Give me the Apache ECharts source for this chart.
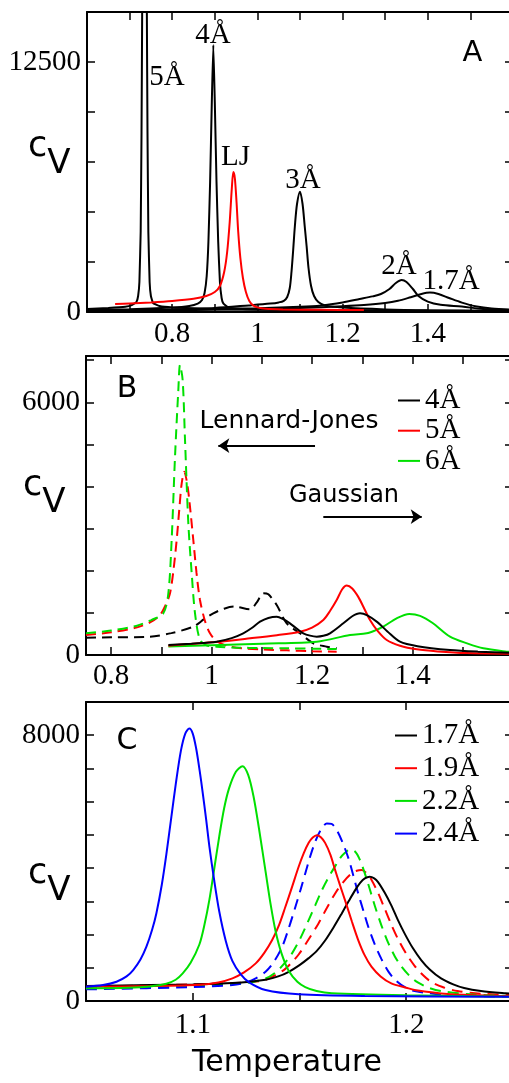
<!DOCTYPE html>
<html>
<head>
<meta charset="utf-8">
<script src="https://cdn.jsdelivr.net/npm/echarts@6/dist/echarts.min.js"></script>
<style>
html,body{margin:0;padding:0;background:#fff;}
#chart{width:509px;height:1083px;}
</style>
</head>
<body>
<div id="chart"></div>
<script>
// ---------- DATA ----------
// Panel A: [Temperature, Cv]
const A_5A = [[0.6,150],[0.65,200],[0.69,260],[0.705,340],[0.716,500],[0.72,800],[0.723,1500],[0.726,4000],[0.728,9000],[0.7295,15000],[0.731,25000],[0.735,40000],[0.739,25000],[0.7405,15000],[0.742,9000],[0.744,4000],[0.747,1500],[0.75,800],[0.755,450],[0.77,300],[0.8,230],[0.9,150],[1.0,110],[1.2,80],[1.4,60],[1.6,50]];
const A_4A = [[0.6,100],[0.7,140],[0.8,220],[0.84,300],[0.86,420],[0.87,600],[0.876,950],[0.881,1800],[0.885,3500],[0.889,6500],[0.893,10500],[0.8965,13350],[0.9,10500],[0.904,6500],[0.908,3500],[0.912,1500],[0.916,700],[0.92,430],[0.93,250],[0.95,170],[1.0,120],[1.2,80],[1.4,60],[1.6,45]];
const A_LJ = [[0.666,400],[0.7,430],[0.75,480],[0.8,550],[0.85,660],[0.88,800],[0.9,1000],[0.912,1300],[0.922,2000],[0.929,3000],[0.935,4500],[0.94,6200],[0.9435,7000],[0.947,6700],[0.951,5500],[0.955,4000],[0.96,2700],[0.966,1700],[0.973,1000],[0.981,550],[0.99,330],[1.0,230],[1.02,160],[1.06,130],[1.15,110],[1.25,100]];
const A_3A = [[0.6,60],[0.7,90],[0.8,130],[0.9,200],[0.98,330],[1.03,420],[1.05,480],[1.062,560],[1.07,750],[1.076,1200],[1.08,2000],[1.084,3100],[1.088,4300],[1.093,5400],[1.1,6017],[1.106,5400],[1.111,4300],[1.1155,3300],[1.12,2200],[1.126,1300],[1.133,800],[1.143,500],[1.16,320],[1.2,220],[1.3,130],[1.4,90],[1.6,60]];
const A_2A = [[0.6,60],[0.8,110],[1.0,190],[1.1,260],[1.15,330],[1.2,480],[1.24,650],[1.27,780],[1.29,900],[1.31,1150],[1.325,1450],[1.3387,1600],[1.35,1500],[1.365,1150],[1.378,800],[1.4,520],[1.43,360],[1.48,270],[1.53,150],[1.6,90]];
const A_17A = [[0.6,50],[0.8,90],[1.0,150],[1.1,200],[1.2,290],[1.25,350],[1.3,450],[1.33,560],[1.36,740],[1.385,900],[1.405,970],[1.425,900],[1.45,700],[1.48,470],[1.515,270],[1.55,170],[1.6,110]];
const A_xTicks = [0.7,0.8,0.9,1.0,1.1,1.2,1.3,1.4,1.5];
const A_xLabels = [0.8,1,1.2,1.4];
const A_yTicks = [0,2500,5000,7500,10000,12500];
const A_yLabels = [0,12500];

// Panel B
const B_4A_gauss = [[0.914,237],[0.96,270],[1.01,316],[1.04,400],[1.063,515],[1.08,640],[1.0964,791],[1.113,880],[1.1296,910],[1.143,850],[1.156,752],[1.17,620],[1.1826,515],[1.196,460],[1.2093,435],[1.2225,455],[1.2357,515],[1.2622,752],[1.28,920],[1.2955,990],[1.31,940],[1.33,780],[1.35,560],[1.375,317],[1.41,210],[1.4746,119],[1.53,80],[1.6,50]];
const B_5A_gauss = [[0.914,220],[1.0,300],[1.0765,396],[1.13,470],[1.176,554],[1.2,650],[1.2224,831],[1.236,1050],[1.249,1306],[1.26,1560],[1.269,1650],[1.28,1580],[1.292,1380],[1.304,1100],[1.3153,831],[1.33,580],[1.3486,356],[1.375,220],[1.4083,135],[1.45,85],[1.508,45],[1.6,30]];
const B_6A_gauss = [[0.914,200],[1.0,230],[1.1,270],[1.2093,316],[1.2755,475],[1.3088,515],[1.325,580],[1.3418,673],[1.3684,871],[1.3936,974],[1.415,930],[1.44,760],[1.4746,435],[1.51,270],[1.5409,158],[1.5875,79],[1.6,70]];
const B_4A_lj = [[0.75,412],[0.8,420],[0.8774,435],[0.92,520],[0.9636,673],[0.985,850],[1.0034,990],[1.025,1100],[1.045,1150],[1.0765,1085],[1.09,1250],[1.103,1464],[1.113,1440],[1.1296,1187],[1.1495,752],[1.176,515],[1.2025,277],[1.2292,198],[1.249,158]];
const B_5A_lj = [[0.75,475],[0.8,540],[0.85,650],[0.88,790],[0.8973,950],[0.909,1200],[0.9172,1464],[0.924,2000],[0.9305,2731],[0.936,3500],[0.9405,4077],[0.9457,4354],[0.951,4100],[0.9556,3681],[0.9636,2731],[0.97,1950],[0.9769,1306],[0.987,800],[0.9968,515],[1.01,330],[1.03,220],[1.06,160],[1.1,130],[1.15,110],[1.2,90],[1.249,79]];
const B_6A_lj = [[0.75,515],[0.8,580],[0.85,690],[0.88,830],[0.9039,990],[0.9139,1464],[0.9205,2731],[0.9272,4710],[0.9338,6293],[0.9371,6887],[0.9424,6531],[0.9471,5106],[0.9537,3127],[0.9604,1939],[0.967,990],[0.9769,356],[0.99,230],[1.01,197],[1.05,175],[1.1,165],[1.15,160],[1.2,150],[1.249,140]];
const B_legend = ['4Å','5Å','6Å'];
const B_xTicks = [0.8,0.9,1.0,1.1,1.2,1.3,1.4,1.5];
const B_xLabels = [0.8,1,1.2,1.4];
const B_yTicks = [0,1000,2000,3000,4000,5000,6000,7000];
const B_yLabels = [0,6000];
const B_arrowLJ = [[1.2059,4970],[1.0134,4970]];
const B_arrowGauss = [[1.2224,3284],[1.4183,3284]];

// Panel C
const C_17 = [[1.05,451],[1.08,480],[1.1,500],[1.1186,540],[1.1341,640],[1.14,740],[1.145,880],[1.15,1080],[1.1543,1290],[1.158,1500],[1.162,1820],[1.166,2220],[1.1698,2637],[1.173,3000],[1.176,3330],[1.1785,3560],[1.1806,3689],[1.1829,3739],[1.185,3690],[1.1868,3580],[1.19,3250],[1.193,2880],[1.196,2450],[1.1992,2035],[1.203,1600],[1.207,1233],[1.211,950],[1.2163,680],[1.222,500],[1.2271,390],[1.235,300],[1.2465,231],[1.25,220]];
const C_19 = [[1.05,431],[1.08,450],[1.1031,490],[1.112,560],[1.1186,682],[1.124,860],[1.1295,1133],[1.1335,1450],[1.1372,1835],[1.1405,2300],[1.1434,2837],[1.1466,3450],[1.1496,4040],[1.152,4450],[1.1543,4760],[1.1562,4920],[1.1581,4992],[1.16,4930],[1.162,4760],[1.1645,4400],[1.1667,3940],[1.169,3480],[1.1713,3038],[1.1745,2400],[1.1775,1835],[1.1805,1380],[1.1837,1033],[1.188,740],[1.193,531],[1.2,400],[1.2039,331],[1.2194,211],[1.2465,150],[1.25,145]];
const C_22 = [[1.05,381],[1.07,400],[1.08,440],[1.0876,520],[1.092,640],[1.0953,832],[1.099,1150],[1.1031,1700],[1.1055,2300],[1.1078,3050],[1.11,3950],[1.1124,4950],[1.1147,5800],[1.117,6400],[1.1202,6900],[1.1233,7068],[1.126,6800],[1.1285,6150],[1.131,5200],[1.1341,3900],[1.1365,2900],[1.1388,2100],[1.1415,1450],[1.145,900],[1.149,580],[1.1527,420],[1.158,300],[1.1651,231],[1.2,170],[1.25,130]];
const C_24 = [[1.05,431],[1.058,480],[1.0643,581],[1.069,740],[1.0721,932],[1.0755,1250],[1.0783,1634],[1.081,2150],[1.083,2650],[1.0855,3500],[1.0876,4400],[1.09,5550],[1.0922,6600],[1.0945,7550],[1.0965,8050],[1.0984,8200],[1.1,8050],[1.1016,7600],[1.1032,6950],[1.1047,6250],[1.1063,5450],[1.1078,4650],[1.11,3650],[1.1124,2700],[1.1155,1800],[1.1186,1200],[1.1225,800],[1.1264,560],[1.1341,330],[1.1496,200],[1.1806,150],[1.25,130]];
const C_17d = [[1.05,431],[1.1,500],[1.125,560],[1.1341,640],[1.1419,900],[1.1455,1100],[1.1496,1400],[1.154,1830],[1.1589,2336],[1.1628,2800],[1.1667,3238],[1.1705,3580],[1.1744,3840],[1.1768,3920],[1.1791,3940],[1.1814,3850],[1.1837,3650],[1.1868,3250],[1.1899,2780],[1.193,2300],[1.1961,1870],[1.2,1420],[1.2039,1060],[1.2078,780],[1.2116,580],[1.217,420],[1.224,300],[1.235,220],[1.25,180]];
const C_22d = [[1.05,400],[1.1,460],[1.125,540],[1.1341,680],[1.1388,860],[1.1425,1100],[1.1465,1434],[1.1505,1900],[1.1543,2436],[1.1575,2900],[1.1605,3338],[1.1636,3720],[1.1667,4060],[1.169,4300],[1.1713,4460],[1.1736,4561],[1.176,4500],[1.1783,4250],[1.1806,3840],[1.183,3350],[1.1853,2860],[1.1884,2270],[1.1915,1760],[1.1946,1350],[1.1977,1040],[1.2015,760],[1.2054,560],[1.2105,400],[1.2163,300],[1.23,200],[1.25,150]];
const C_24d = [[1.05,351],[1.1,420],[1.1186,481],[1.125,560],[1.1295,682],[1.1341,880],[1.138,1180],[1.1419,1634],[1.145,2200],[1.1481,2837],[1.1505,3350],[1.1527,3840],[1.155,4350],[1.1574,4800],[1.16,5150],[1.1628,5343],[1.165,5330],[1.1674,5150],[1.17,4800],[1.1729,4300],[1.1752,3780],[1.1775,3238],[1.18,2700],[1.1822,2236],[1.1853,1700],[1.1884,1260],[1.1915,900],[1.1946,650],[1.199,430],[1.2039,300],[1.2194,180],[1.25,130]];
const C_legend = ['1.7Å','1.9Å','2.2Å','2.4Å'];
const C_xTicks = [1.1,1.15,1.2];
const C_xLabels = [1.1,1.2];
const C_yTicks = [0,1000,2000,3000,4000,5000,6000,7000,8000];
const C_yLabels = [0,8000];

// ---------- STYLE ----------
const SERIF = 'Liberation Serif';
const SANS = 'DejaVu Sans';
const BLACK = '#000000', RED = '#ff0000', GREEN = '#00e000', BLUE = '#0000ff';

function axis(gridIndex, min, max, ticks, labels, position, margin) {
  return {
    type: 'value', gridIndex, min, max, position,
    axisLine: { show: true, onZero: false, lineStyle: { color: '#000', width: 2 } },
    axisTick: { show: true, inside: true, length: 8, customValues: ticks, lineStyle: { color: '#000', width: 1.5 } },
    axisLabel: labels ? { show: true, customValues: labels, margin, color: '#000', fontFamily: SERIF, fontSize: 29,
      formatter: (v) => String(v) } : { show: false },
    splitLine: { show: false }
  };
}

function line(name, data, xi, color, dashed, extra) {
  return Object.assign({
    type: 'line', name, data, xAxisIndex: xi, yAxisIndex: xi,
    showSymbol: false, symbol: 'none', smooth: 0.3, clip: true,
    color: color,
    itemStyle: { color },
    lineStyle: { color, width: 2, type: dashed || 'solid' },
    emphasis: { disabled: true }, silent: true
  }, extra || {});
}

function txt(x, y, text, family, size, align) {
  return { type: 'text', x, y, z: 100, silent: true,
    style: { text, fill: '#000', font: size + 'px "' + family + '"', align: align || 'center', verticalAlign: 'middle' } };
}
function cv(x, y) {
  return { type: 'text', x, y, z: 100, silent: true,
    style: { text: '{c|c}{v|V}', fill: '#000', align: 'left', verticalAlign: 'top',
      rich: {
        c: { fontFamily: SANS, fontSize: 35, lineHeight: 40, verticalAlign: 'top', fill: '#000' },
        v: { fontFamily: SANS, fontSize: 34, lineHeight: 40, padding: [18, 0, 0, 0], verticalAlign: 'top', fill: '#000' }
      } } };
}

const dashB = [10, 6], dashC = [11, 7];
const arrowLine = (p) => [{ coord: p[0] }, { coord: p[1] }];

const option = {
  animation: false,
  backgroundColor: '#fff',
  grid: [
    { left: 87, top: 12, right: -4, height: 300, outerBoundsMode: 'none', containLabel: false },
    { left: 86, top: 356, right: -4, height: 299, outerBoundsMode: 'none', containLabel: false },
    { left: 86, top: 702, right: -4, height: 299, outerBoundsMode: 'none', containLabel: false }
  ],
  xAxis: [
    axis(0, 0.6, 1.6, A_xTicks, A_xLabels, 'bottom', 8),
    axis(0, 0.6, 1.6, A_xTicks, null, 'top'),
    axis(1, 0.75, 1.6, B_xTicks, B_xLabels, 'bottom', 7),
    axis(1, 0.75, 1.6, B_xTicks, null, 'top'),
    axis(2, 1.05, 1.25, C_xTicks, C_xLabels, 'bottom', 10),
    axis(2, 1.05, 1.25, C_xTicks, null, 'top')
  ],
  yAxis: [
    axis(0, 0, 15000, A_yTicks, A_yLabels, 'left', 6),
    axis(0, 0, 15000, A_yTicks, null, 'right'),
    axis(1, 0, 7100, B_yTicks, B_yLabels, 'left', 6),
    axis(1, 0, 7100, B_yTicks, null, 'right'),
    axis(2, 0, 9000, C_yTicks, C_yLabels, 'left', 6),
    axis(2, 0, 9000, C_yTicks, null, 'right')
  ],
  legend: [
    { data: B_legend, left: 398, top: 386, orient: 'vertical', padding: 0, icon: 'rect', itemWidth: 22, itemHeight: 2, itemGap: 1.2,
      selectedMode: false, textStyle: { fontFamily: SERIF, fontSize: 29, lineHeight: 28, color: '#000' } },
    { data: C_legend, left: 395, top: 721, orient: 'vertical', padding: 0, icon: 'rect', itemWidth: 22, itemHeight: 2, itemGap: 3.7,
      selectedMode: false, textStyle: { fontFamily: SERIF, fontSize: 29, lineHeight: 28, color: '#000' } }
  ],
  series: [
    line('A 1.7Å', A_17A, 0, BLACK),
    line('A 2Å', A_2A, 0, BLACK),
    line('A 3Å', A_3A, 0, BLACK),
    line('A 4Å', A_4A, 0, BLACK, null, { smooth: 0.15 }),
    line('A 5Å', A_5A, 0, BLACK, null, { smooth: 0.1 }),
    line('A LJ', A_LJ, 0, RED),

    line('LJ 4Å', B_4A_lj, 2, BLACK, dashB),
    line('LJ 5Å', B_5A_lj, 2, RED, dashB),
    line('LJ 6Å', B_6A_lj, 2, GREEN, dashB),
    line('6Å', B_6A_gauss, 2, GREEN),
    line('5Å', B_5A_gauss, 2, RED),
    line('4Å', B_4A_gauss, 2, BLACK, null, {
      markLine: {
        silent: true, symbol: ['none', 'arrow'], symbolSize: 11,
        label: { show: false }, emphasis: { disabled: true },
        lineStyle: { color: '#000', width: 2, type: 'solid' },
        itemStyle: { color: '#000' },
        data: [arrowLine(B_arrowLJ), arrowLine(B_arrowGauss)]
      }
    }),

    line('1.7Å dashed', C_17d, 4, RED, dashC),
    line('2.2Å dashed', C_22d, 4, GREEN, dashC),
    line('2.4Å dashed', C_24d, 4, BLUE, dashC),
    line('1.7Å', C_17, 4, BLACK),
    line('1.9Å', C_19, 4, RED),
    line('2.2Å', C_22, 4, GREEN),
    line('2.4Å', C_24, 4, BLUE)
  ],
  graphic: [
    cv(28, 129.5), cv(23, 468.5), cv(28, 856.5),
    txt(472.5, 53, 'A', SANS, 29),
    txt(127, 389, 'B', SANS, 30),
    txt(127, 741, 'C', SANS, 30),
    txt(167, 77.5, '5Å', SERIF, 29),
    txt(213, 35, '4Å', SERIF, 29),
    txt(235.5, 157.5, 'LJ', SERIF, 29),
    txt(303, 180, '3Å', SERIF, 29),
    txt(399, 266.7, '2Å', SERIF, 29),
    txt(451, 281.3, '1.7Å', SERIF, 29),
    txt(289, 421.7, 'Lennard-Jones', SANS, 25),
    txt(344, 496, 'Gaussian', SANS, 24),
    txt(287, 1063, 'Temperature', SANS, 30)
  ]
};

const chart = echarts.init(document.getElementById('chart'), null, { renderer: 'canvas' });
chart.setOption(option);
</script>
</body>
</html>
